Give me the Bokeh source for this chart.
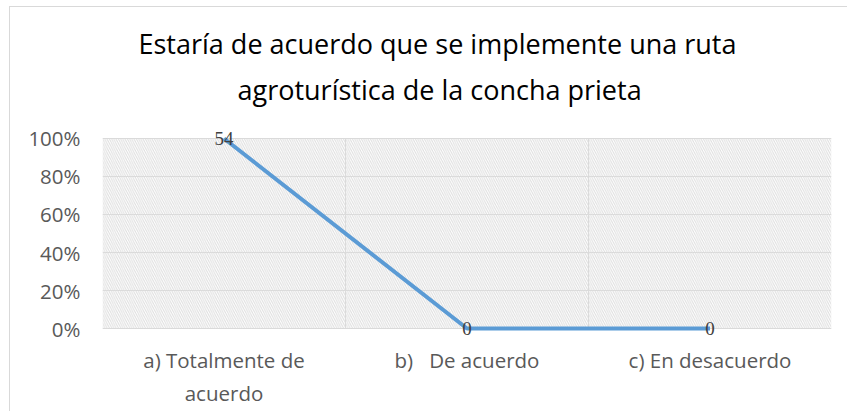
from bokeh.plotting import figure
from bokeh.models import (ColumnDataSource, LabelSet, Range1d, FixedTicker,
                          NumeralTickFormatter, Title, BoxAnnotation)
from bokeh.embed import file_html
from bokeh.resources import INLINE

# ---- data ----
categories = ["a) Totalmente de\nacuerdo", "b)\u00a0\u00a0 De acuerdo", "c) En desacuerdo"]
counts = [54, 0, 0]
share = [1.0, 0.0, 0.0]          # 100% stacked share of the single series
y_ticks = [0.0, 0.2, 0.4, 0.6, 0.8, 1.0]
title_lines = ["Estaría de acuerdo que se implemente una ruta",
               "agroturística de la concha prieta"]

FONT = "Open Sans"
xs = [i + 0.5 for i in range(len(categories))]
bounds = list(range(len(categories) + 1))

src = ColumnDataSource(dict(x=xs, y=share, lab=[str(c) for c in counts]))

p = figure(width=838, height=405, output_backend="svg", toolbar_location=None,
           x_range=Range1d(0, len(categories)), y_range=Range1d(-0.0526, 1.0368),
           min_border_left=92, min_border_right=17, min_border_top=124,
           min_border_bottom=74)
p.outline_line_color = None
p.background_fill_color = "white"
p.border_fill_color = "white"
p.styles = {"margin-left": "9px", "margin-top": "6px",
            "border-left": "1px solid #d9d9d9", "border-top": "1px solid #d9d9d9"}

# hatched plot area
p.add_layout(BoxAnnotation(left=bounds[0], right=bounds[-1], bottom=y_ticks[0], top=y_ticks[-1],
                           fill_alpha=0, line_color=None, hatch_pattern="\\",
                           hatch_color="#dddddd", hatch_scale=4.5, hatch_weight=1,
                           level="underlay"))

# grids
p.ygrid.ticker = FixedTicker(ticks=y_ticks)
p.ygrid.grid_line_color = "#d9d9d9"
p.xgrid.ticker = FixedTicker(ticks=bounds)
p.xgrid.grid_line_color = "#d9d9d9"
p.xgrid.cross_bounds = (y_ticks[0], y_ticks[-1])

# axes
p.yaxis.ticker = FixedTicker(ticks=y_ticks)
p.yaxis.formatter = NumeralTickFormatter(format="0%")
p.yaxis.axis_line_color = None
p.yaxis.major_tick_line_color = None
p.yaxis.minor_tick_line_color = None
p.yaxis.major_tick_out = 0
p.yaxis.minor_tick_out = 0
p.yaxis.major_label_standoff = 22
p.yaxis.major_label_text_font = FONT
p.yaxis.major_label_text_font_size = "20.5px"
p.yaxis.major_label_text_color = "#595959"

p.xaxis.ticker = FixedTicker(ticks=xs)
p.xaxis.major_label_overrides = {x: c for x, c in zip(xs, categories)}
p.xaxis.axis_line_color = None
p.xaxis.major_tick_line_color = None
p.xaxis.minor_tick_line_color = None
p.xaxis.major_label_standoff = 1
p.xaxis.major_label_text_font = FONT
p.xaxis.major_label_text_font_size = "20.5px"
p.xaxis.major_label_text_color = "#595959"

# line
p.line("x", "y", source=src, line_color="#5B9BD5", line_width=4)

p.add_layout(LabelSet(x="x", y="y", text="lab", source=src, text_align="center",
                      text_baseline="middle", text_font=FONT, text_font_size="19px",
                      text_color="#404040"))

# titles (second line added first: it sits closest to the plot)
p.add_layout(Title(text=title_lines[1], align="left", text_font=FONT,
                   text_font_size="27px", text_font_style="normal",
                   text_color="#000000", standoff=48, offset=135), "above")
p.add_layout(Title(text=title_lines[0], align="left", text_font=FONT,
                   text_font_size="27px", text_font_style="normal",
                   text_color="#000000", standoff=-34, offset=36), "above")

open("out.html", "w").write(file_html(p, INLINE))
